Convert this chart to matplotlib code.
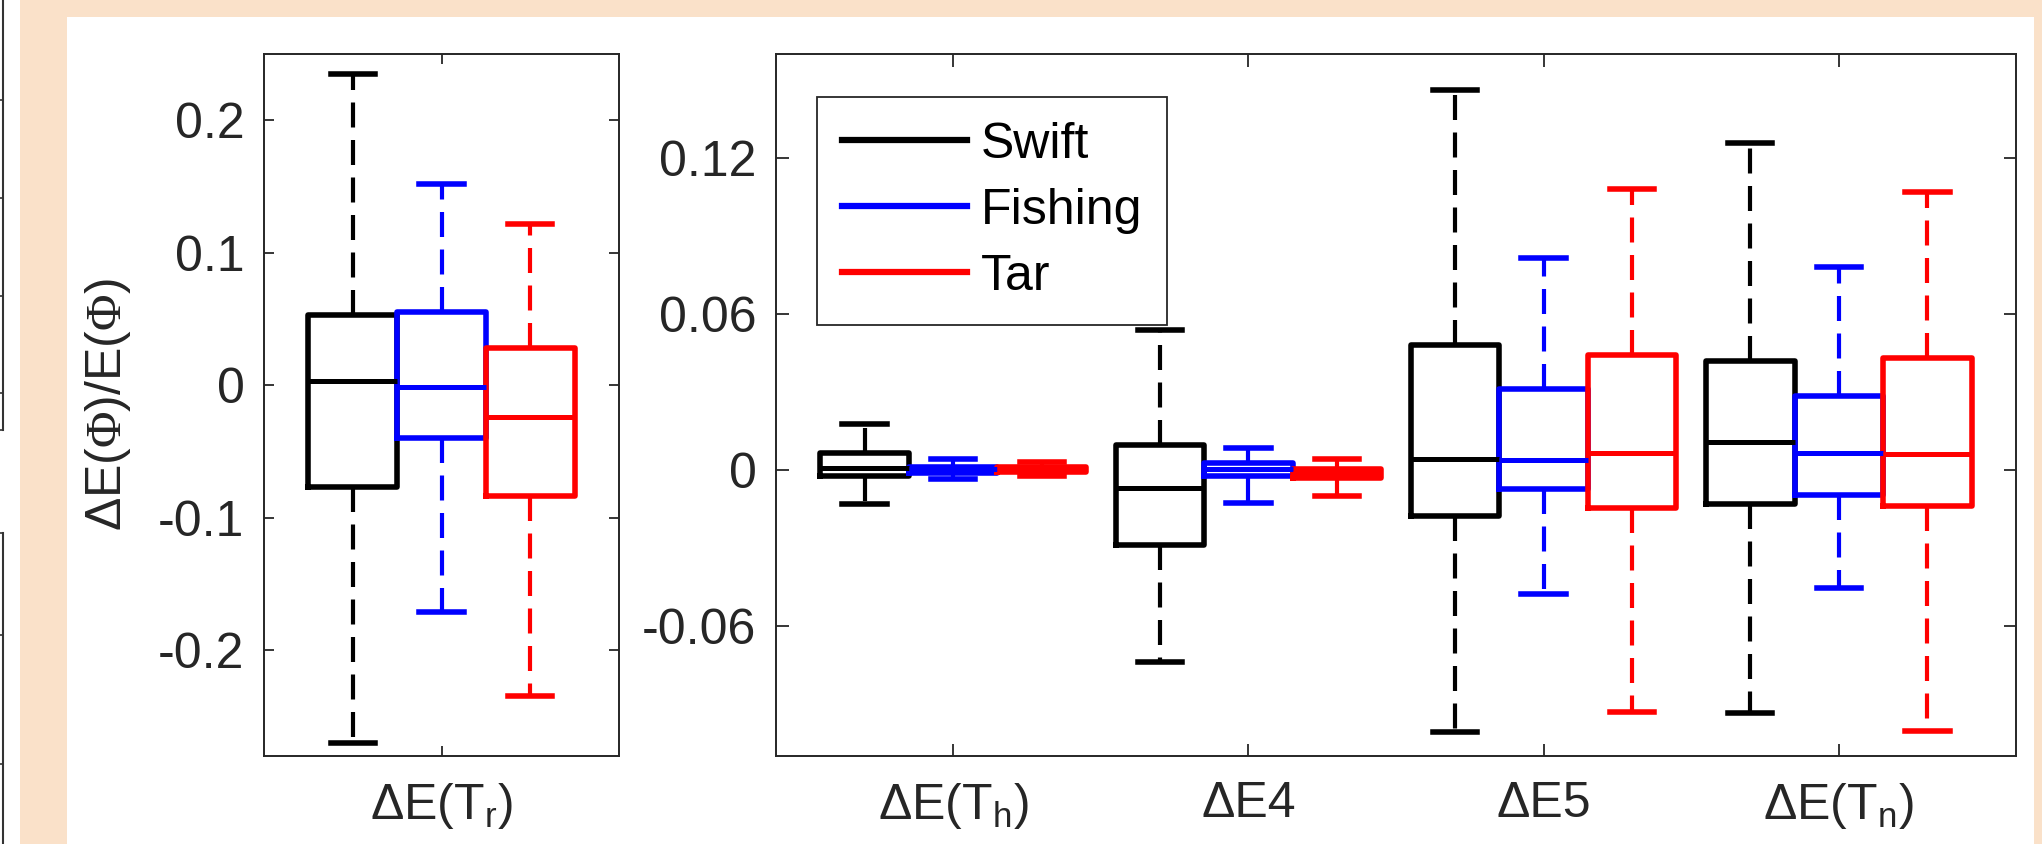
import matplotlib
matplotlib.use('Agg')
import matplotlib.pyplot as plt
from matplotlib.lines import Line2D
from matplotlib.patches import Rectangle

plt.rcParams['font.family'] = ['Liberation Sans', 'DejaVu Sans']
plt.rcParams['mathtext.fontset'] = 'custom'
plt.rcParams['mathtext.rm'] = 'Liberation Sans'
plt.rcParams['mathtext.it'] = 'Liberation Sans:italic'
plt.rcParams['mathtext.sf'] = 'Liberation Serif'
plt.rcParams['axes.unicode_minus'] = False

# ---- data ----
groups = ['ΔE(T$_\\mathrm{r}$)', 'ΔE(T$_\\mathrm{h}$)', 'ΔE4', 'ΔE5', 'ΔE(T$_\\mathrm{n}$)']
series = ['Swift', 'Fishing', 'Tar']
colors = ['black', 'blue', 'red']

# per series: median, q1, q3, whisker low, whisker high for each group
swift_med = [0.003, 0.0009, -0.0070, 0.0042, 0.0106]
swift_q1 = [-0.077, -0.0023, -0.0290, -0.0176, -0.0132]
swift_q3 = [0.053, 0.0064, 0.0095, 0.0480, 0.0419]
swift_lo = [-0.270, -0.0132, -0.0740, -0.1009, -0.0936]
swift_hi = [0.235, 0.0176, 0.0540, 0.1460, 0.1256]

fishing_med = [-0.0015, 0.0002, 0.0002, 0.0040, 0.0067]
fishing_q1 = [-0.040, -0.0012, -0.0022, -0.0072, -0.0097]
fishing_q3 = [0.055, 0.0012, 0.0028, 0.0313, 0.0286]
fishing_lo = [-0.171, -0.0036, -0.0128, -0.0476, -0.0455]
fishing_hi = [0.152, 0.0041, 0.0083, 0.0815, 0.0780]

tar_med = [-0.024, 0.0002, -0.0010, 0.0065, 0.0063]
tar_q1 = [-0.084, -0.0008, -0.0030, -0.0146, -0.0138]
tar_q3 = [0.028, 0.0012, 0.0005, 0.0442, 0.0432]
tar_lo = [-0.235, -0.0023, -0.0100, -0.0932, -0.1003]
tar_hi = [0.1216, 0.0032, 0.0041, 0.1080, 0.1070]

all_stats = [
    (swift_med, swift_q1, swift_q3, swift_lo, swift_hi),
    (fishing_med, fishing_q1, fishing_q3, fishing_lo, fishing_hi),
    (tar_med, tar_q1, tar_q3, tar_lo, tar_hi),
]

FS = 36
EDGE = '#262626'

fig = plt.figure(figsize=(20.42, 8.44), dpi=100, facecolor='white')

# peach frame + white panel like the screenshot
fig.patches.append(Rectangle((20 / 2042, 0), 1, 1, transform=fig.transFigure,
                             facecolor='#fae1c9', edgecolor='none', zorder=-10))
fig.patches.append(Rectangle((67 / 2042, 0), (2034 - 67) / 2042, 1 - 17 / 844,
                             transform=fig.transFigure, facecolor='white',
                             edgecolor='none', zorder=-9))
# remnants of a neighbouring figure at the far left
for y0, y1 in [(0, 430), (533, 844)]:
    fig.add_artist(Line2D([2.5 / 2042, 2.5 / 2042], [1 - y0 / 844, 1 - y1 / 844],
                          color='#333333', lw=1.5))
for yy in [100, 198, 296, 393, 430, 533, 635, 764]:
    fig.add_artist(Line2D([0, 3 / 2042], [1 - yy / 844, 1 - yy / 844],
                          color='#333333', lw=1.2))

ax1 = fig.add_axes([264 / 2042, 1 - 756 / 844, 355 / 2042, 702 / 844])
ax2 = fig.add_axes([776 / 2042, 1 - 756 / 844, 1240 / 2042, 702 / 844])


def draw_group(ax, gi, pos, offset, width):
    for si, (med, q1, q3, lo, hi) in enumerate(all_stats):
        c = colors[si]
        st = [dict(med=med[gi], q1=q1[gi], q3=q3[gi], whislo=lo[gi],
                   whishi=hi[gi], fliers=[])]
        ax.bxp(st, positions=[pos + (si - 1) * offset], widths=width,
               capwidths=width * 0.5, showfliers=False, manage_ticks=False,
               boxprops=dict(color=c, lw=4.0, solid_joinstyle='round'),
               whiskerprops=dict(color=c, lw=3.0, linestyle=(0, (6, 3))),
               capprops=dict(color=c, lw=4.0),
               medianprops=dict(color=c, lw=3.6))


# left panel: first group
draw_group(ax1, 0, 1, 0.25, 0.25)
ax1.set_xlim(0.5, 1.5)
ax1.set_ylim(-0.28, 0.25)
ax1.set_xticks([1])
ax1.set_xticklabels([groups[0]])
ax1.set_yticks([-0.2, -0.1, 0, 0.1, 0.2])
ax1.set_yticklabels(['-0.2', '-0.1', '0', '0.1', '0.2'])
ax1.set_ylabel('ΔE($\\mathsf{\\Phi}$)/E($\\mathsf{\\Phi}$)', fontsize=FS, labelpad=18)

# right panel: the other four groups
for k in range(1, 5):
    draw_group(ax2, k, k, 0.3, 0.3)
ax2.set_xlim(0.4, 4.6)
ax2.set_ylim(-0.11, 0.16)
ax2.set_xticks([1, 2, 3, 4])
ax2.set_xticklabels(groups[1:])
ax2.set_yticks([-0.06, 0, 0.06, 0.12])
ax2.set_yticklabels(['-0.06', '0', '0.06', '0.12'])

for ax, tl in [(ax1, 7), (ax2, 9)]:
    for sp in ax.spines.values():
        sp.set_color(EDGE)
        sp.set_linewidth(1.4)
    ax.tick_params(direction='in', top=True, right=True, length=tl, width=1.3,
                   color=EDGE, labelcolor=EDGE, labelsize=FS)
    ax.tick_params(axis='y', pad=14)
    ax.tick_params(axis='x', pad=18)
ax1.yaxis.label.set_color(EDGE)

handles = [Line2D([], [], color=c, lw=4.5) for c in colors]
leg = ax2.legend(handles, series, loc='upper left', bbox_to_anchor=(0.033, 0.939),
                 borderaxespad=0, fontsize=FS, handlelength=2.5, handletextpad=0.28,
                 labelspacing=0.4, borderpad=0.5, fancybox=False, framealpha=1)
leg.get_frame().set_edgecolor(EDGE)
leg.get_frame().set_linewidth(1.3)
for t in leg.get_texts():
    t.set_color('black')

fig.savefig('out.png', dpi=100, facecolor=fig.get_facecolor())
